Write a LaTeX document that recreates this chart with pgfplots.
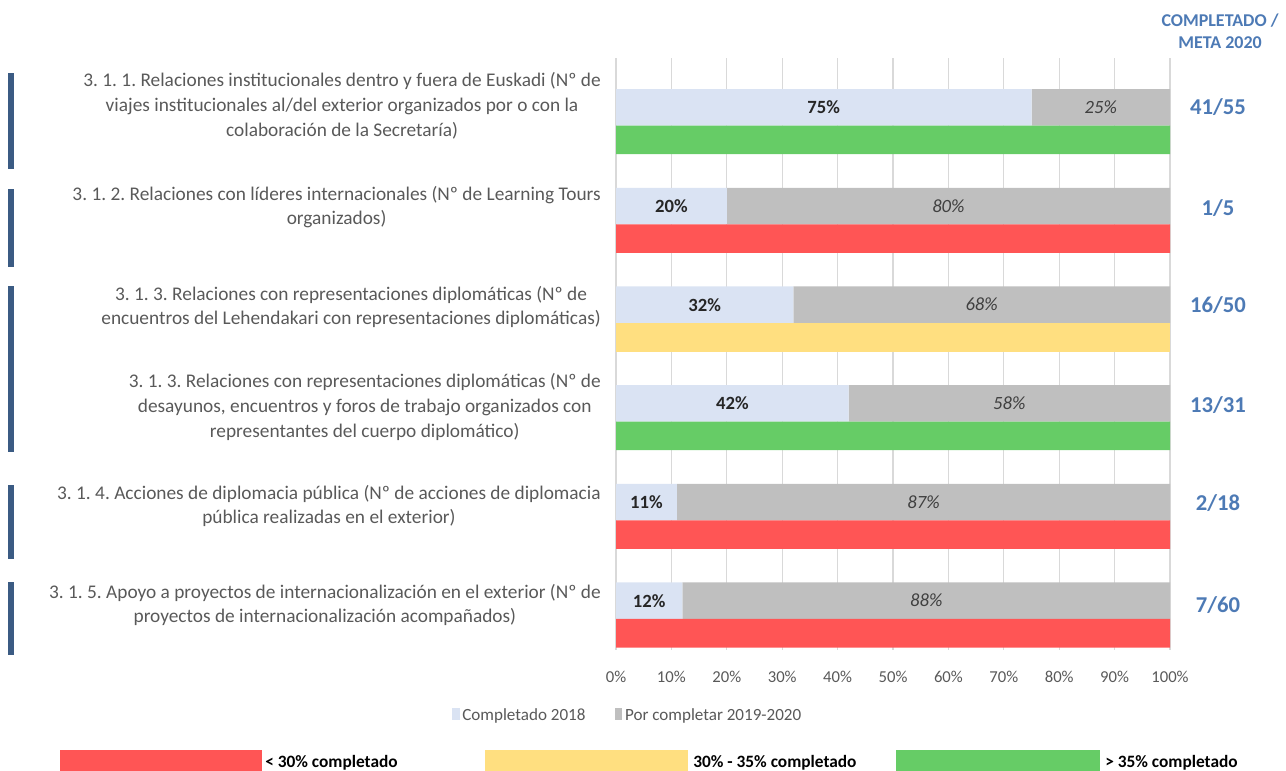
\documentclass[border=0pt]{standalone}
\usepackage{fontspec}
\setmainfont{Carlito}
\usepackage{pgfplots}
\pgfplotsset{compat=1.18}
\usepackage{pgfplotstable}
\frenchspacing

\definecolor{cdone}{HTML}{DAE3F3}
\definecolor{crest}{HTML}{BFBFBF}
\definecolor{cred}{HTML}{FF5555}
\definecolor{cyel}{HTML}{FFDF80}
\definecolor{cgreen}{HTML}{66CC66}
\definecolor{ctxt}{HTML}{595959}
\definecolor{cblue}{HTML}{4D7AB5}
\definecolor{cnavy}{HTML}{3B5B83}
\definecolor{cgrid}{HTML}{D9D9D9}

\pgfplotstableread{
k done rest donelab restlab
0 75 25 75 25
1 20 80 20 80
2 32 68 32 68
3 42 58 42 58
4 11 89 11 87
5 12 88 12 88
}\datatable

\pgfplotstableread{
k val
1 100
4 100
5 100
}\redtab
\pgfplotstableread{
k val
2 100
}\yeltab
\pgfplotstableread{
k val
0 100
3 100
}\greentab

\pgfplotsset{
  mybase/.style={
    at={(462pt,-487.5pt)}, anchor=south west,
    scale only axis, width=415.5pt, height=444pt,
    xmin=0, xmax=100, ymin=-0.5, ymax=5.5, y dir=reverse,
    axis line style={draw=none}, major tick length=0pt,
    ytick=\empty, xtick={0,10,...,100}, clip=false,
  }
}

\begin{document}
\begin{tikzpicture}
% invisible frame
\begin{scope}[x=0.75pt,y=-0.75pt]
\path[use as bounding box] (0,0) rectangle (1286,771);
\end{scope}

\begin{axis}[mybase,
  xbar stacked, bar width=0.37,
  xmajorgrids, grid style={cgrid, line width=0.9pt},
  xticklabel={\pgfmathprintnumber{\tick}\%},
  /pgf/number format/assume math mode=true,
  xticklabel style={anchor=center, yshift=-20pt, font=\fontsize{12.5}{15}\selectfont, text=ctxt},
  legend style={at={(0.0217,-0.11)}, anchor=center, legend columns=2, draw=none,
    font=\fontsize{12.8}{15}\selectfont, text=ctxt,
    /tikz/every even column/.append style={column sep=20pt}},
  legend image code/.code={\fill (0.1cm,-0.14cm) rectangle (0.3cm,0.2cm);},
]
\addplot[fill=cdone, draw=none] table[x=done, y=k] \datatable;
\addlegendentry{Completado 2018}
\addplot[fill=crest, draw=none] table[x=rest, y=k] \datatable;
\addlegendentry{Por completar 2019-2020}
\end{axis}

\begin{axis}[mybase, xticklabels=\empty]
\addplot[xbar, bar width=0.29, bar shift=0pt, fill=cred, draw=none] table[x=val, y expr=\thisrow{k}+0.33] \redtab;
\addplot[xbar, bar width=0.29, bar shift=0pt, fill=cyel, draw=none] table[x=val, y expr=\thisrow{k}+0.33] \yeltab;
\addplot[xbar, bar width=0.29, bar shift=0pt, fill=cgreen, draw=none] table[x=val, y expr=\thisrow{k}+0.33] \greentab;
\addplot[draw=none, mark=none, nodes near coords={\pgfplotspointmeta\%}, point meta=explicit symbolic,
  every node near coord/.style={anchor=center, font=\bfseries\fontsize{14}{16}\selectfont, text=black!85}]
  table[x expr=\thisrow{done}/2, y=k, meta=donelab] \datatable;
\addplot[draw=none, mark=none, nodes near coords={\pgfplotspointmeta\%}, point meta=explicit symbolic,
  every node near coord/.style={anchor=center, font=\itshape\fontsize{14}{16}\selectfont, text=black!75}]
  table[x expr=\thisrow{done}+\thisrow{rest}/2, y=k, meta=restlab] \datatable;
\end{axis}

\begin{scope}[x=0.75pt,y=-0.75pt]
% left navy bars
\foreach \a/\b in {73/169, 189/267, 286/452, 485/559, 582/655}
  \fill[cnavy] (8,\a) rectangle (14,\b);
% left labels
\tikzset{lab/.style={anchor=east, align=center, text=ctxt, font=\fontsize{14.5}{18.6}\selectfont, inner sep=0pt}}
\node[lab] at (601,106) {3. 1. 1. Relaciones institucionales dentro y fuera de Euskadi (Nº de\\ viajes institucionales al/del exterior organizados por o con la\\ colaboración de la Secretaría)};
\node[lab] at (601,207) {3. 1. 2. Relaciones con líderes internacionales (Nº de Learning Tours\\ organizados)};
\node[lab] at (601,307) {3. 1. 3. Relaciones con representaciones diplomáticas (Nº de\\ encuentros del Lehendakari con representaciones diplomáticas)};
\node[lab] at (601,407) {3. 1. 3. Relaciones con representaciones diplomáticas (Nº de\\ desayunos, encuentros y foros de trabajo organizados con\\ representantes del cuerpo diplomático)};
\node[lab] at (601,506) {3. 1. 4. Acciones de diplomacia pública (Nº de acciones de diplomacia\\ pública realizadas en el exterior)};
\node[lab] at (601,605) {3. 1. 5. Apoyo a proyectos de internacionalización en el exterior (Nº de\\ proyectos de internacionalización acompañados)};
% right ratio labels
\tikzset{rat/.style={anchor=center, text=cblue, font=\bfseries\fontsize{17}{20}\selectfont, inner sep=0pt}}
\node[rat] at (1218,107) {41/55};
\node[rat] at (1218,208) {1/5};
\node[rat] at (1218,305) {16/50};
\node[rat] at (1218,405) {13/31};
\node[rat] at (1218,503) {2/18};
\node[rat] at (1218,605) {7/60};
\node[anchor=center, align=center, text=cblue, font=\bfseries\fontsize{13.5}{16.5}\selectfont, inner sep=0pt] at (1220,31) {COMPLETADO /\\ META 2020};
% status legend
\fill[cred] (60,750) rectangle (262,771);
\fill[cyel] (485,750) rectangle (688,771);
\fill[cgreen] (896,750) rectangle (1100,771);
\tikzset{slab/.style={anchor=west, text=black, font=\bfseries\fontsize{13}{15}\selectfont, inner sep=0pt}}
\node[slab] at (265,763) {< 30\% completado};
\node[slab] at (693,763) {30\% - 35\% completado};
\node[slab] at (1105,763) {> 35\% completado};
\end{scope}
\end{tikzpicture}
\end{document}
